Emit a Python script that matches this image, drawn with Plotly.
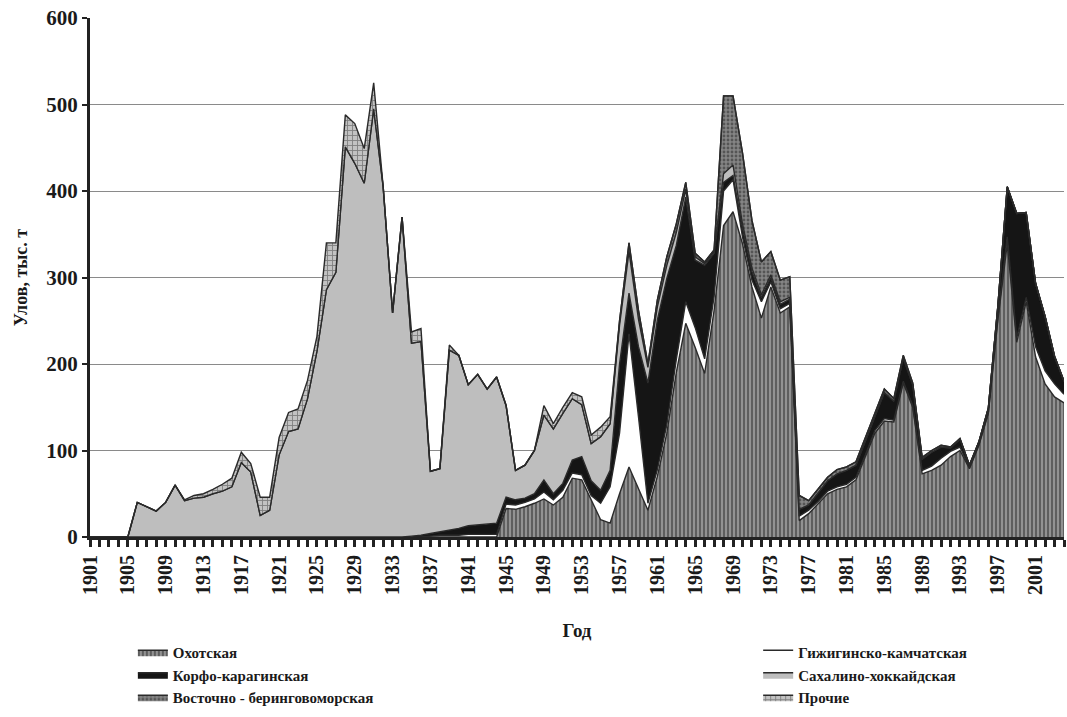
import plotly.graph_objects as go

# Years (categories)
years = list(range(1901, 2005))

# Catch, thousand tonnes, by stock, 1901..2004
okhotsk = [
    0, 0, 0, 0, 0, 0, 0, 0, 0, 0,            # 1901-1910
    0, 0, 0, 0, 0, 0, 0, 0, 0, 0,            # 1911-1920
    0, 0, 0, 0, 0, 0, 0, 0, 0, 0,            # 1921-1930
    0, 0, 0, 0, 0, 0, 0, 0, 0, 0,            # 1931-1940
    0, 0, 0, 0, 33, 32, 35, 39, 44, 37,      # 1941-1950
    46, 68, 66, 42, 20, 16, 50, 81, 55, 31,  # 1951-1960
    70, 120, 190, 247, 219, 189, 262, 360, 376, 339,  # 1961-1970
    289, 253, 289, 259, 266, 19, 27, 38, 50, 55,      # 1971-1980
    58, 66, 92, 120, 134, 133, 178, 150, 73, 77,      # 1981-1990
    83, 93, 100, 79, 106, 143, 250, 339, 225, 272,    # 1991-2000
    208, 177, 162, 155,                               # 2001-2004
]
gizhiga = [
    0, 0, 0, 0, 0, 0, 0, 0, 0, 0,
    0, 0, 0, 0, 0, 0, 0, 0, 0, 0,
    0, 0, 0, 0, 0, 0, 0, 0, 0, 0,
    0, 0, 0, 0, 0, 0, 1, 2, 2, 2,
    3, 3, 3, 3, 5, 5, 5, 5, 8, 6,
    8, 6, 6, 6, 19, 42, 70, 154, 84, 8,
    8, 10, 15, 25, 23, 17, 16, 40, 37, 8,
    8, 19, 6, 5, 4, 5, 4, 3, 3, 3,
    3, 3, 3, 3, 3, 2, 2, 2, 4, 5,
    8, 6, 4, 1, 1, 1, 3, 8, 5, 5,
    12, 15, 15, 10,
]
korfo = [
    0, 0, 0, 0, 0, 0, 0, 0, 0, 0,
    0, 0, 0, 0, 0, 0, 0, 0, 0, 0,
    0, 0, 0, 0, 0, 0, 0, 0, 0, 0,
    0, 0, 0, 0, 1, 2, 3, 4, 6, 8,
    10, 11, 12, 13, 8, 6, 5, 6, 14, 7,
    8, 15, 21, 17, 15, 19, 80, 47, 81, 139,
    173, 169, 132, 121, 78, 108, 50, 10, 5, 10,
    10, 5, 5, 5, 5, 8, 6, 10, 12, 15,
    16, 14, 15, 16, 30, 22, 27, 24, 13, 16,
    13, 4, 9, 3, 3, 5, 13, 58, 144, 98,
    73, 63, 32, 15,
]
sakhalin = [
    0, 0, 0, 0, 0, 40, 35, 30, 40, 60,
    42, 45, 46, 50, 53, 58, 86, 75, 25, 31,
    95, 122, 125, 160, 215, 286, 306, 451, 432, 409,
    495, 405, 259, 370, 223, 224, 72, 73, 208, 200,
    163, 174, 156, 169, 106, 34, 38, 50, 75, 75,
    81, 71, 60, 43, 62, 54, 45, 48, 32, 18,
    15, 15, 15, 9, 4, 2, 2, 10, 12, 5,
    4, 3, 3, 3, 2, 0, 0, 0, 0, 0,
    0, 0, 0, 0, 0, 0, 0, 0, 0, 0,
    0, 0, 0, 0, 0, 0, 0, 0, 0, 0,
    0, 0, 0, 0,
]
eastbering = [
    0, 0, 0, 0, 0, 0, 0, 0, 0, 0,
    0, 0, 0, 0, 0, 0, 0, 0, 0, 0,
    0, 0, 0, 0, 0, 0, 0, 0, 0, 0,
    0, 0, 0, 0, 0, 0, 0, 0, 0, 0,
    0, 0, 0, 0, 0, 0, 0, 0, 0, 0,
    0, 0, 0, 0, 0, 0, 5, 10, 10, 4,
    8, 10, 10, 8, 4, 2, 2, 90, 80, 82,
    55, 38, 27, 25, 24, 16, 5, 5, 4, 5,
    4, 4, 4, 4, 4, 3, 3, 2, 2, 2,
    2, 1, 1, 0, 0, 0, 0, 0, 0, 0,
    0, 0, 0, 0,
]
other = [
    0, 0, 0, 0, 0, 0, 0, 0, 0, 0,
    1, 3, 4, 5, 8, 10, 12, 10, 21, 15,
    20, 22, 23, 21, 17, 54, 34, 37, 46, 40,
    30, 0, 0, 0, 13, 15, 0, 0, 6, 0,
    0, 0, 0, 0, 0, 0, 0, 0, 11, 6,
    7, 7, 9, 10, 11, 8, 0, 0, 0, 0,
    0, 0, 0, 0, 0, 0, 0, 0, 0, 0,
    0, 0, 0, 0, 0, 0, 0, 0, 0, 0,
    0, 0, 0, 0, 0, 0, 0, 0, 0, 0,
    0, 0, 0, 0, 0, 0, 0, 0, 0, 0,
    0, 0, 0, 0,
]

names = ["Охотская", "Гижигинско-камчатская", "Корфо-карагинская",
         "Сахалино-хоккайдская", "Восточно - беринговоморская", "Прочие"]

FONT = "Liberation Serif"
EDGE = "#2a2a2a"

styles = [
    dict(fillpattern=dict(shape='|', fgcolor='#2a2a2a', bgcolor='#929292', size=4, solidity=0.5), legend='legend'),
    dict(fillcolor='#ffffff', legend='legend2'),
    dict(fillcolor='#151515', legend='legend'),
    dict(fillcolor='#bebebe', legend='legend2'),
    dict(fillpattern=dict(shape='.', fgcolor='#262626', bgcolor='#858585', size=4, solidity=0.4), legend='legend'),
    dict(fillpattern=dict(shape='+', fgcolor='#3a3a3a', bgcolor='#c2c2c2', size=5, solidity=0.32), legend='legend2'),
]

fig = go.Figure()
for name, vals, st in zip(names, [okhotsk, gizhiga, korfo, sakhalin, eastbering, other], styles):
    fig.add_trace(go.Scatter(
        x=years, y=vals, name=name, mode='lines', stackgroup='one',
        line=dict(color=EDGE, width=1.4), **st))

leg_font = dict(family=FONT, size=15, color='#1a1a1a', weight='bold')
fig.update_layout(
    width=1067, height=717,
    margin=dict(l=90, r=3, t=18, b=180),
    paper_bgcolor='white', plot_bgcolor='white',
    font=dict(family=FONT, size=18, color='#1a1a1a', weight='bold'),
    showlegend=True,
    legend=dict(x=0.044, y=-0.341, xanchor='left', yanchor='bottom',
                traceorder='normal', font=leg_font, bgcolor='rgba(0,0,0,0)', tracegroupgap=0),
    legend2=dict(x=0.686, y=-0.341, xanchor='left', yanchor='bottom',
                 traceorder='normal', font=leg_font, bgcolor='rgba(0,0,0,0)', tracegroupgap=0),
)

fig.update_xaxes(
    range=[1901, 2004], tickmode='linear', tick0=1901, dtick=4,
    tickangle=-90, tickfont=dict(family=FONT, size=20, weight='bold', color='#1a1a1a'),
    ticks='outside', ticklen=7, tickwidth=2.5, tickcolor='#222',
    minor=dict(tickmode='linear', tick0=1901, dtick=1, ticks='outside', ticklen=7,
               tickwidth=2.5, tickcolor='#222', showgrid=False),
    showline=True, linecolor='#222', linewidth=3, showgrid=False, zeroline=False,
    automargin=False,
    title=dict(text='Год', font=dict(family=FONT, size=19, weight='bold'), standoff=30),
)
fig.update_yaxes(
    range=[0, 600], tickmode='linear', tick0=0, dtick=100,
    tickfont=dict(family=FONT, size=21, weight='bold', color='#1a1a1a'),
    ticks='outside', ticklen=5, tickwidth=2, tickcolor='#222',
    showline=True, linecolor='#222', linewidth=3,
    showgrid=True, gridcolor='#8a8a8a', gridwidth=1, zeroline=False,
    automargin=False,
    title=dict(text='Улов, тыс. т', font=dict(family=FONT, size=18, weight='bold'), standoff=14),
)

fig.write_html("out.html", config={'displayModeBar': False},
               post_script="document.body.style.margin='0px';document.body.style.overflow='hidden';")
